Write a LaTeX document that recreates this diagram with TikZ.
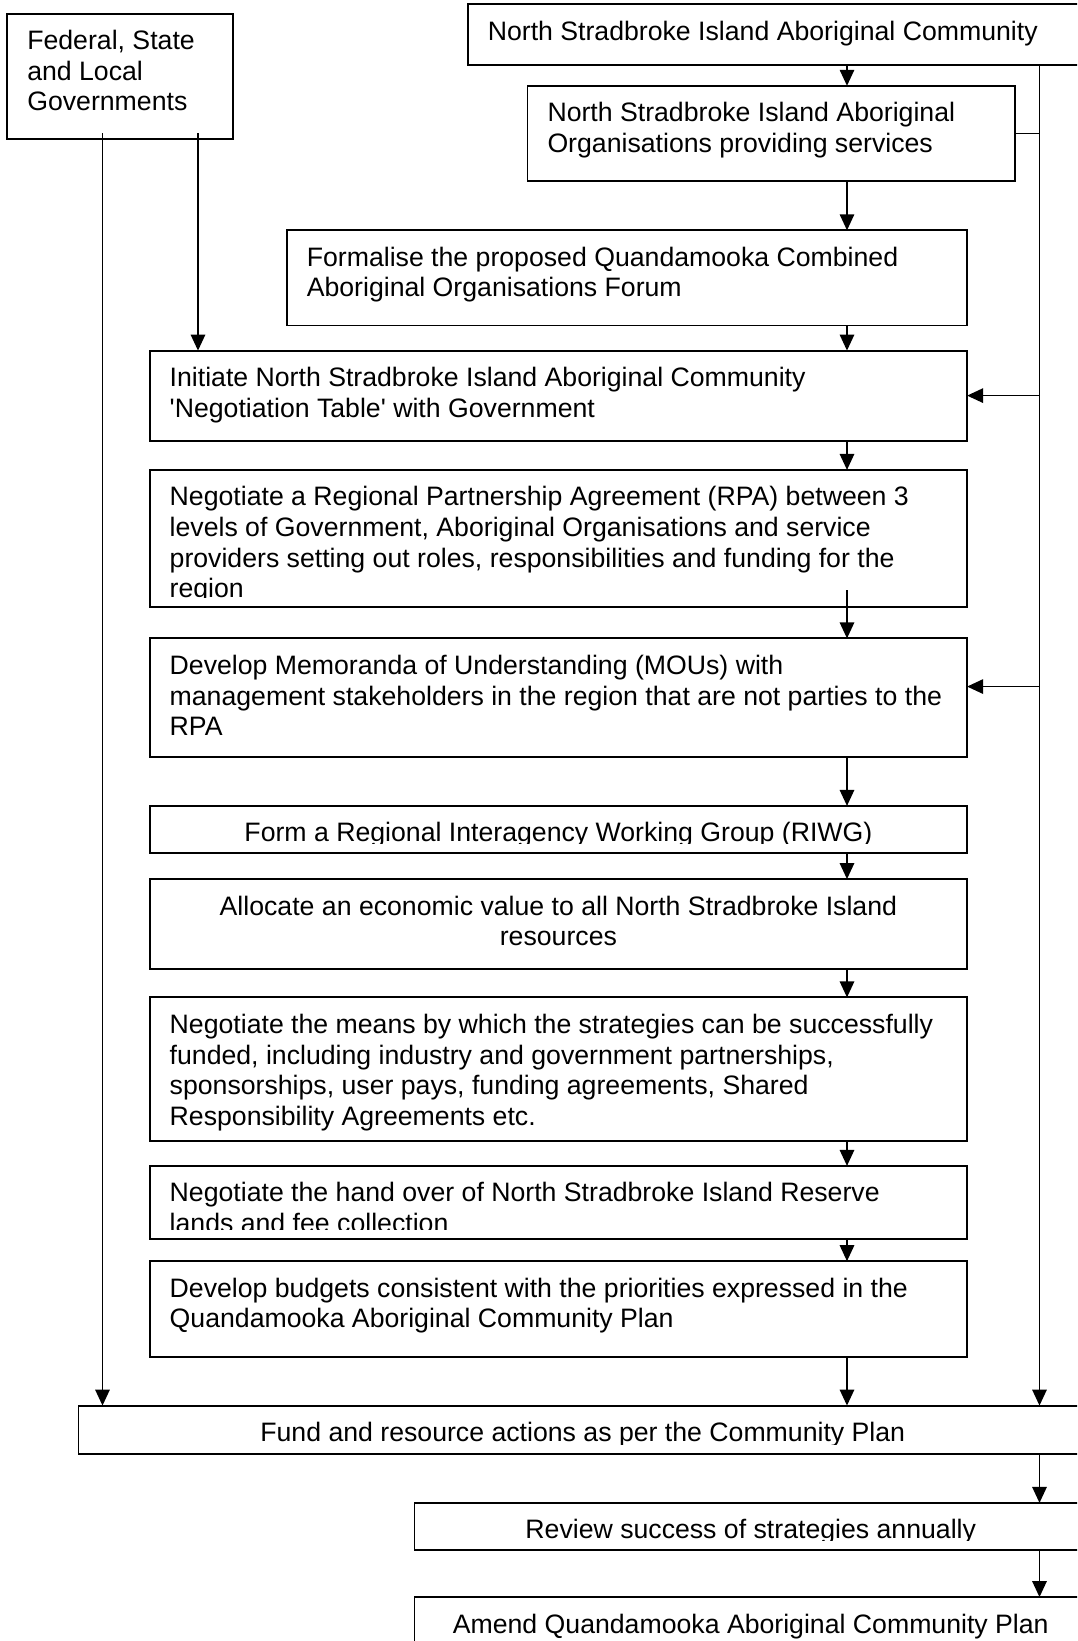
\documentclass[tikz,border=0pt]{standalone}
\usepackage{fontspec}
\newfontfamily\flowfont{Liberation Sans}
\usetikzlibrary{arrows.meta,fit,calc}

% text inside a box, clipped to the box's inner margins (left aligned);
% a top-aligned tabular keeps the node's baseline on the first line
\newcommand\stagetextL[2]{%
  \begin{scope}
    \clip ([yshift=-3.6pt]#1.north west) rectangle ([yshift=3.6pt]#1.south east);
    \node[wording, anchor=base west] (#1-text)
      at ([xshift=7.3pt,yshift=-13.5pt]#1.north west)
      {\begin{tabular}[t]{@{}l@{}}#2\end{tabular}};
  \end{scope}}
% same, centred
\newcommand\stagetextC[2]{%
  \begin{scope}
    \clip ([yshift=-3.6pt]#1.north west) rectangle ([yshift=3.6pt]#1.south east);
    \node[wording, anchor=base] (#1-text)
      at ([yshift=-13.5pt]#1.north)
      {\begin{tabular}[t]{@{}c@{}}#2\end{tabular}};
  \end{scope}}

\begin{document}
\begin{tikzpicture}[x=0.375pt, y=-0.375pt,
  stage/.style={draw, line width=0.7pt, inner sep=0pt, outer sep=0pt},
  wording/.style={font=\flowfont\fontsize{10}{11.5}\selectfont, inner sep=0pt},
  flow/.style={line width=0.65pt, -{Triangle[length=6pt,width=5.4pt]}},
  link/.style={line width=0.65pt}]

\useasboundingbox (0,0) rectangle (1077,1641);
\clip (0,0) rectangle (1077,1641);

% boxes
\node[stage, fit={(7.3,13.6)(233.4,139.2)}] (gov) {};
\node[stage, fit={(467.8,4.2)(1087,64.9)}] (nsic) {};
\node[stage, fit={(527.5,85.8)(1015.2,181.1)}] (orgs) {};
\node[stage, fit={(286.8,230.3)(967.1,325.5)}] (forum) {};
\node[stage, fit={(149.7,350.6)(967.1,440.6)}] (table) {};
\node[stage, fit={(149.7,469.9)(967.1,607.0)}] (rpa) {};
\node[stage, fit={(149.7,638.4)(967.1,756.7)}] (mou) {};
\node[stage, fit={(149.7,805.9)(967.1,853.0)}] (riwg) {};
\node[stage, fit={(149.7,879.1)(967.1,969.2)}] (value) {};
\node[stage, fit={(149.7,997.4)(967.1,1140.8)}] (means) {};
\node[stage, fit={(149.7,1165.9)(967.1,1239.2)}] (lands) {};
\node[stage, fit={(149.7,1261.2)(967.1,1357.4)}] (budget) {};
\node[stage, fit={(78.5,1405.6)(1087,1453.7)}] (fund) {};
\node[stage, fit={(414.5,1502.9)(1087,1550.0)}] (review) {};
\node[stage, fit={(414.5,1597.1)(1087,1700)}] (amend) {};

% box texts
\stagetextL{gov}{Federal, State\\and Local\\Governments}
\stagetextL{nsic}{North Stradbroke Island Aboriginal Community}
\stagetextL{orgs}{North Stradbroke Island Aboriginal\\Organisations providing services}
\stagetextL{forum}{Formalise the proposed Quandamooka Combined\\Aboriginal Organisations Forum}
\stagetextL{table}{Initiate North Stradbroke Island Aboriginal Community\\'Negotiation Table' with Government}
\stagetextL{rpa}{Negotiate a Regional Partnership Agreement (RPA) between 3\\levels of Government, Aboriginal Organisations and service\\providers setting out roles, responsibilities and funding for the\\region}
\stagetextL{mou}{Develop Memoranda of Understanding (MOUs) with\\management stakeholders in the region that are not parties to the\\RPA}
\stagetextC{riwg}{Form a Regional Interagency Working Group (RIWG)}
\stagetextC{value}{Allocate an economic value to all North Stradbroke Island\\resources}
\stagetextL{means}{Negotiate the means by which the strategies can be successfully\\funded, including industry and government partnerships,\\sponsorships, user pays, funding agreements, Shared\\Responsibility Agreements etc.}
\stagetextL{lands}{Negotiate the hand over of North Stradbroke Island Reserve\\lands and fee collection}
\stagetextL{budget}{Develop budgets consistent with the priorities expressed in the\\Quandamooka Aboriginal Community Plan}
\stagetextC{fund}{Fund and resource actions as per the Community Plan}
\stagetextC{review}{Review success of strategies annually}
\stagetextC{amend}{Amend Quandamooka Aboriginal Community Plan}

% connector columns
\coordinate (col) at (847,0);
\coordinate (rcol) at (1039.5,0);
\coordinate (gl) at (102.5,0);
\coordinate (gr) at (198,0);

% main chain
\draw[flow] (nsic.south -| col) -- (orgs.north -| col);
\draw[flow] (orgs.south -| col) -- (forum.north -| col);
\draw[flow] (forum.south -| col) -- (table.north -| col);
\draw[flow] (table.south -| col) -- (rpa.north -| col);
\draw[flow] ($(rpa.south -| col)+(0,-17)$) -- (mou.north -| col);
\draw[flow] (mou.south -| col) -- (riwg.north -| col);
\draw[flow] (riwg.south -| col) -- (value.north -| col);
\draw[flow] (value.south -| col) -- (means.north -| col);
\draw[flow] (means.south -| col) -- (lands.north -| col);
\draw[flow] (lands.south -| col) -- (budget.north -| col);
\draw[flow] (budget.south -| col) -- (fund.north -| col);

% government lines
\draw[flow] ($(gov.south -| gl)+(0,-6)$) -- (fund.north -| gl);
\draw[flow] ($(gov.south -| gr)+(0,-6)$) -- (table.north -| gr);

% community line on the right
\draw[flow] (nsic.south -| rcol) -- (fund.north -| rcol);
\draw[link] (orgs.east) -- (orgs.east -| rcol);
\draw[flow] (table.east -| rcol) -- (table.east);
\draw[flow] ($(mou.east -| rcol)+(0,-11)$) -- ($(mou.east)+(0,-11)$);
\draw[flow] (fund.south -| rcol) -- (review.north -| rcol);
\draw[flow] (review.south -| rcol) -- (amend.north -| rcol);
\end{tikzpicture}
\end{document}
